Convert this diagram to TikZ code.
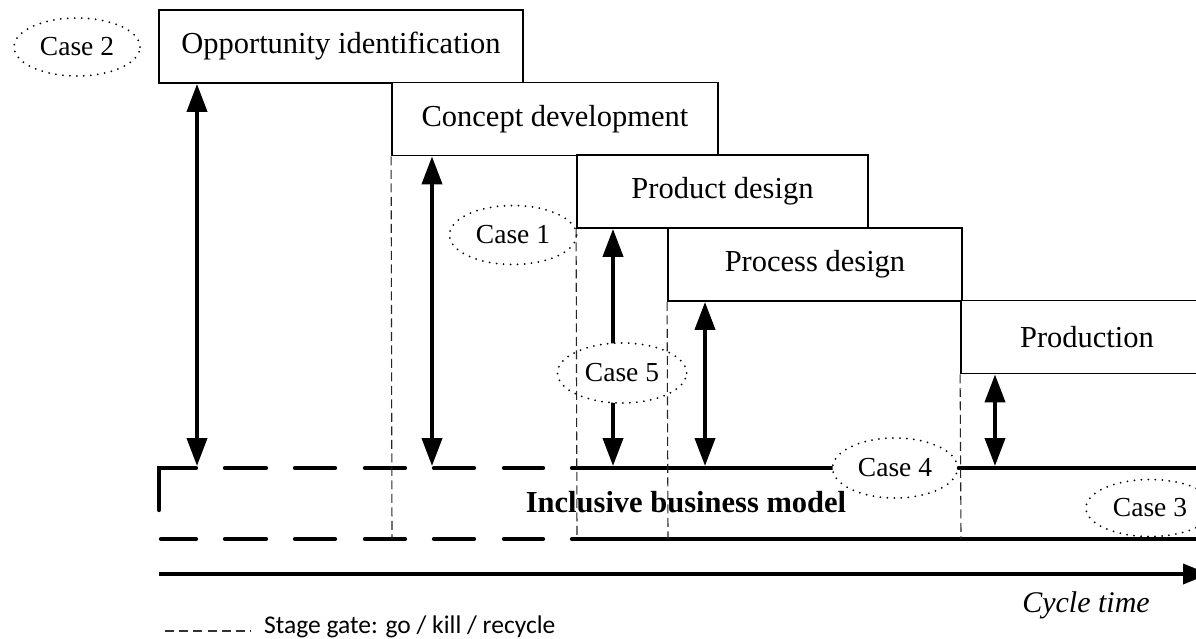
\documentclass[tikz,border=0pt]{standalone}
\usepackage{fontspec}
\setmainfont{Liberation Serif}
\newfontfamily\calib{Carlito}
\usetikzlibrary{arrows.meta,shapes.geometric}
\begin{document}
\begin{tikzpicture}[x=1pt,y=-1pt,
  stagebox/.style={draw, line width=1.8pt, fill=white, inner sep=0pt, minimum height=73pt,
    font=\fontsize{30.5}{36}\selectfont},
  casebubble/.style={ellipse, draw, line width=2pt, line cap=round, dash pattern=on 0pt off 7pt,
    fill=white, inner sep=0pt, minimum width=127pt, minimum height=59pt,
    font=\fontsize{27.5}{32}\selectfont},
  dblarrow/.style={line width=4pt, {Triangle[length=28pt,width=20pt]}-{Triangle[length=28pt,width=20pt]}},
  thickline/.style={line width=4.3pt, line cap=round},
  gateline/.style={line width=1.1pt, dash pattern=on 9pt off 4.5pt, draw=black!85},
  legendline/.style={line width=1.2pt, dash pattern=on 9pt off 5.2pt, draw=black!80}
]
\useasboundingbox (0,0) rectangle (1196,638);
\clip (0,0) rectangle (1196,638);
\fill[white] (0,0) rectangle (1196,638);

% stage boxes
\node[stagebox, minimum width=364pt] (opp) at (341,46.5) {Opportunity identification};
\node[stagebox, minimum width=326pt] (con) at (555,119) {Concept development};
\node[stagebox, minimum width=291pt] (prd) at (722.5,191.5) {Product design};
\node[stagebox, minimum width=294pt] (prc) at (815,264.5) {Process design};
\node[stagebox, minimum width=252pt] (pro) at (1087,337) {Production};

% feet of the arrows on the upper line
\coordinate (f1) at (197,466);
\coordinate (f2) at (432,466);
\coordinate (f3) at (613,466);
\coordinate (f4) at (705,466);
\coordinate (f5) at (995,466);
\draw[dblarrow] (opp.south -| f1) -- (f1);
\draw[dblarrow] (con.south -| f2) -- (f2);
\draw[dblarrow] (prd.south -| f3) -- (f3);
\draw[dblarrow] (prc.south -| f4) -- (f4);
\draw[dblarrow] (pro.south -| f5) -- (f5);

% inclusive business model band
\coordinate (tl0) at (159,510);
\coordinate (tl1) at (159,468);
\coordinate (tl2) at (196,468);
\coordinate (bl1) at (161,539);
\coordinate (bl2) at (196,539);
\draw[thickline] (tl0) -- (tl1) -- (tl2);
\draw[thickline] (bl1) -- (bl2);
\foreach \a/\b in {225/266, 295/335, 365/405, 434/474, 504/543}{
  \draw[thickline] (\a,468) -- (\b,468);
  \draw[thickline] (\a,539) -- (\b,539);
}
\coordinate (ts0) at (572,468);
\coordinate (ts1) at (1220,468);
\coordinate (bs0) at (572,539);
\coordinate (bs1) at (1220,539);
\draw[thickline] (ts0) -- (ts1);
\draw[thickline] (bs0) -- (bs1);

% time axis
\coordinate (ax0) at (159,574);
\coordinate (ax1) at (1209,574);
\draw[line width=3.8pt, -{Triangle[length=26pt,width=20pt]}] (ax0) -- (ax1);

% case bubbles
\node[casebubble, minimum width=126pt, minimum height=58pt] (c2) at (77,47) {Case 2};
\node[casebubble] (c1) at (513,235) {Case 1};
\node[casebubble, minimum width=129pt, minimum height=60pt] (c5) at (622,373) {Case 5};
\node[casebubble, minimum width=125pt, minimum height=60pt] (c4) at (895,468) {Case 4};
\node[casebubble, minimum width=128pt, minimum height=57pt] (c3) at (1150,508) {Case 3};

% texts
\node[anchor=base, inner sep=0pt, font=\fontsize{30.5}{36}\selectfont\bfseries] (ibm) at (686,512) {Inclusive business model};
\node[anchor=base, inner sep=0pt, font=\fontsize{30}{36}\selectfont\itshape] (ct) at (1086,612) {Cycle time};

% stage gates
\coordinate (g1) at (392,539);
\coordinate (g2) at (577,539);
\coordinate (g3) at (668,539);
\coordinate (g4) at (961,539);
\draw[gateline] (con.south west) -- (g1);
\draw[gateline] (prd.south west) -- (g2);
\draw[gateline] (prc.south west) -- (g3);
\draw[gateline] (pro.south west) -- (g4);

% legend
\coordinate (lg0) at (165,631);
\coordinate (lg1) at (251,631);
\draw[legendline] (lg0) -- (lg1);
\node[anchor=base west, inner sep=0pt, font=\calib\fontsize{25.5}{30}\selectfont] (leg) at (264,633) {Stage gate: go / kill / recycle};
\end{tikzpicture}
\end{document}
